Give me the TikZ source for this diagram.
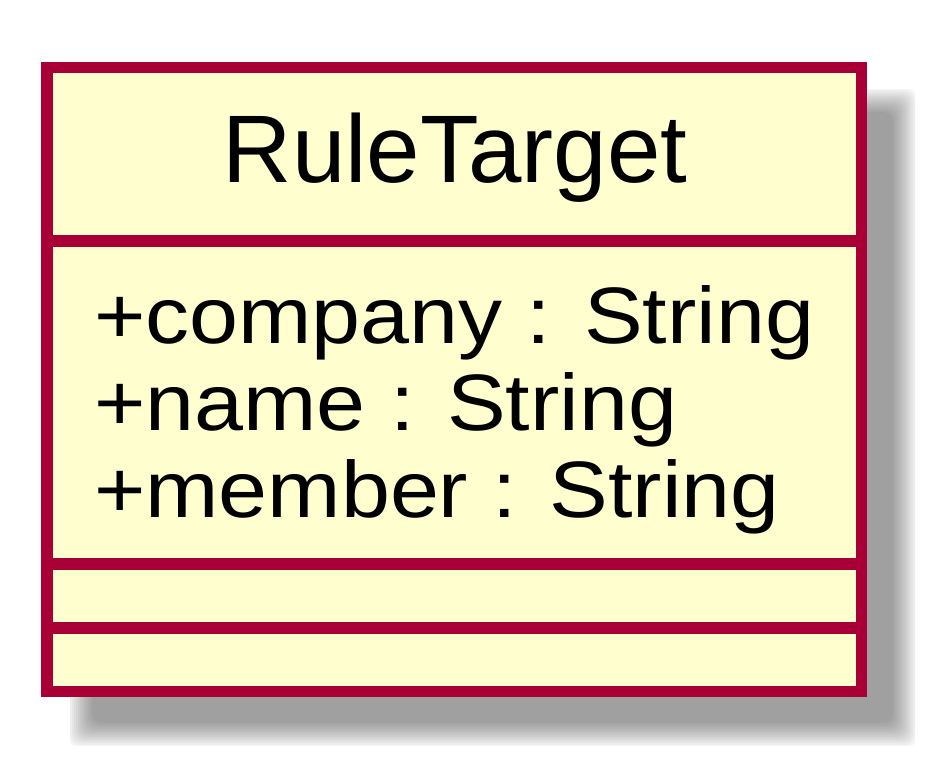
\documentclass[tikz,border=0pt]{standalone}
\usepackage{fontspec}
\setmainfont{Liberation Sans}
\definecolor{umlborder}{HTML}{A80036}
\definecolor{umlfill}{HTML}{FEFECE}
\tikzset{
  classbox/.style={draw=umlborder, fill=umlfill, line width=11.5pt, inner sep=0pt, shape=rectangle},
  sepline/.style={draw=umlborder, line width=11.5pt},
  titletext/.style={inner sep=0pt, anchor=base, font=\fontsize{96}{115}\selectfont},
  attrtext/.style={inner sep=0pt, anchor=base west, font=\fontsize{80}{96}\selectfont},
}
\begin{document}
\begin{tikzpicture}[x=1pt,y=-1pt]
\useasboundingbox (0,0) rectangle (948,778);
% shadow (blurred, clipped)
\begin{scope}
  \clip (70,90) rectangle (915,745);
  \foreach \i in {0,...,12} {
    \pgfmathsetmacro\e{-12+\i*2}
    \fill[black, opacity=0.0353, rounded corners=10pt] (80-\e,100-\e) rectangle (905+\e,735+\e);
  }
\end{scope}
\node (box) [classbox, minimum width=814.3pt, minimum height=624.2pt] at (454.35,379.4) {};
\coordinate (s1) at (0,241);
\coordinate (s2) at (0,564);
\coordinate (s3) at (0,628);
\draw[sepline] (box.west |- s1) -- (box.east |- s1);
\draw[sepline] (box.west |- s2) -- (box.east |- s2);
\draw[sepline] (box.west |- s3) -- (box.east |- s3);
\node (title) [titletext] at (455,183) {RuleTarget};
\node (a1) [attrtext] at (94,343) {\scalebox{1.1}[1]{+company : String}};
\node (a2) [attrtext] at (94,430) {\scalebox{1.1}[1]{+name : String}};
\node (a3) [attrtext] at (94,517) {\scalebox{1.1}[1]{+member : String}};
\end{tikzpicture}
\end{document}
